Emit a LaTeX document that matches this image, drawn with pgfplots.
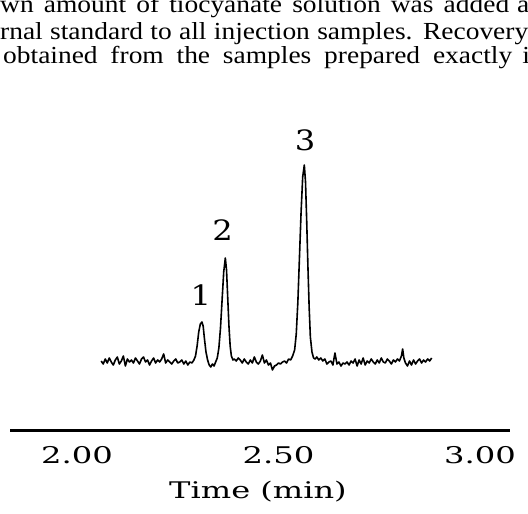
\documentclass[border=0pt]{standalone}
\usepackage{fontspec}
\usepackage{pgfplots}
\pgfplotsset{compat=1.18}
\setmainfont{DejaVu Serif}
\newfontfamily\tickf[FakeStretch=1.4]{DejaVu Serif}
\newfontfamily\peakf[FakeStretch=1.15]{DejaVu Serif}
\newfontfamily\bodyf[FakeStretch=1.12]{Liberation Serif}

\pgfplotstableread{
t s
2.060 1
2.065 -2
2.070 3
2.075 -1
2.080 4
2.085 0
2.090 -3
2.095 2
2.100 5
2.105 -2
2.110 1
2.115 6
2.120 -4
2.125 3
2.130 0
2.135 2
2.140 -1
2.145 4
2.150 1
2.155 -2
2.160 3
2.165 5
2.170 0
2.175 2
2.180 -3
2.185 1
2.190 4
2.195 -1
2.200 2
2.205 0
2.210 3
2.215 8
2.220 -1
2.225 2
2.230 0
2.235 -2
2.240 1
2.245 3
2.250 -1
2.255 0
2.260 2
2.265 -2
2.270 1
2.275 -3
2.280 0
2.285 -1
2.290 2
2.294 6
2.298 16
2.302 30
2.306 38
2.310 40
2.313 36
2.316 24
2.320 10
2.324 2
2.328 -3
2.332 -5
2.336 -2
2.340 -4
2.344 0
2.348 4
2.352 14
2.356 34
2.360 62
2.364 90
2.368 104
2.371 92
2.374 64
2.377 36
2.380 16
2.383 6
2.387 2
2.390 3
2.395 1
2.400 4
2.405 2
2.410 -1
2.415 3
2.420 0
2.425 -2
2.430 2
2.435 -1
2.440 5
2.445 0
2.450 -2
2.455 1
2.460 7
2.465 -1
2.470 2
2.475 -3
2.480 -1
2.485 -8
2.490 -4
2.495 -3
2.500 -1
2.505 -2
2.510 0
2.515 1
2.520 -1
2.525 3
2.530 2
2.535 6
2.540 12
2.544 28
2.548 60
2.552 105
2.556 150
2.560 185
2.564 197
2.567 180
2.570 140
2.573 95
2.576 55
2.579 25
2.583 10
2.587 4
2.591 3
2.595 5
2.600 2
2.605 4
2.610 1
2.615 3
2.620 -2
2.625 0
2.630 1
2.635 -3
2.640 9
2.645 -2
2.650 0
2.655 -4
2.660 -1
2.665 -2
2.670 0
2.675 -3
2.680 1
2.685 -1
2.690 3
2.695 -4
2.700 2
2.705 -2
2.710 4
2.715 -3
2.720 1
2.725 -1
2.730 3
2.735 0
2.740 -2
2.745 2
2.750 -1
2.755 4
2.760 0
2.765 -1
2.770 3
2.775 1
2.780 -2
2.785 2
2.790 0
2.795 3
2.800 1
2.805 6
2.808 13
2.811 4
2.815 -1
2.820 -4
2.825 1
2.830 -3
2.835 2
2.840 -2
2.845 1
2.850 3
2.855 -1
2.860 2
2.865 0
2.870 3
2.875 1
2.880 4
}\chrom

\begin{document}
\begin{tikzpicture}[x=1pt,y=1pt]
\useasboundingbox (0,0) rectangle (528,514);
\clip (0,0) rectangle (528,514);
% surrounding page text
\node[anchor=base west, inner sep=0pt] at (0,501) {\bodyf\fontsize{24.5}{25}\selectfont\makebox[509pt][s]{wn amount of tiocyanate solution was added}\hspace{8pt}a};
\node[anchor=base west, inner sep=0pt] at (0,474.7) {\bodyf\fontsize{24.5}{25}\selectfont\makebox[528pt][s]{rnal standard to all injection samples. Recovery}};
\node[anchor=base west, inner sep=0pt] at (3,450.4) {\bodyf\fontsize{24.5}{25}\selectfont\makebox[509pt][s]{obtained from the samples prepared exactly}\hspace{10pt}i};
\begin{axis}[
  at={(10pt,83.5pt)}, anchor=south west,
  scale only axis, width=500pt, height=300pt,
  xmin=1.8337, xmax=3.0744, ymin=-68.5, ymax=231.5,
  axis y line=none, axis x line*=bottom,
  x axis line style={line width=3.2pt,-},
  xtick={2,2.5,3}, xticklabels={2.00,2.50,3.00},
  major tick length=0pt,
  xticklabel style={anchor=base, inner sep=0pt, yshift=-33pt, font=\tickf\fontsize{23}{24}\selectfont},
  xlabel={Time (min)},
  xlabel style={at={(rel axis cs:0.496,0)}, anchor=base, inner sep=0pt, yshift=-68pt, font=\tickf\fontsize{22.9}{24}\selectfont},
  clip=false,
]
\addplot[black, line width=1.6pt, line join=round] table[x=t, y=s] {\chrom};
\node[anchor=base, inner sep=0pt, font=\peakf\fontsize{28}{30}\selectfont] at (axis cs:2.3072,56.3) {1};
\node[anchor=base, inner sep=0pt, font=\peakf\fontsize{28}{30}\selectfont] at (axis cs:2.3610,121.3) {2};
\node[anchor=base, inner sep=0pt, font=\peakf\fontsize{28}{30}\selectfont] at (axis cs:2.5658,211.3) {3};
\end{axis}
\end{tikzpicture}
\end{document}
